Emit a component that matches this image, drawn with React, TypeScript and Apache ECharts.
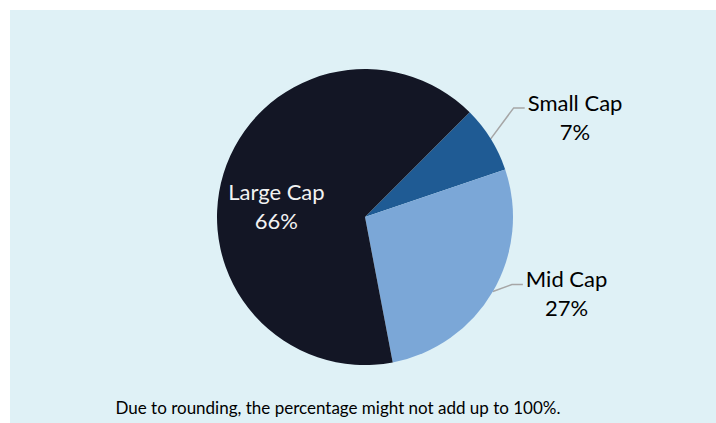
import React, { useEffect, useRef } from "react";
import * as echarts from "echarts";

const categories = ["Small Cap", "Mid Cap", "Large Cap"];
const values = [7.3, 27.2, 65.5];
const colors = ["#1f5b94", "#7ba7d7", "#131625"];
const footnote = "Due to rounding, the percentage might not add up to 100%.";

export default function App() {
  const ref = useRef<HTMLDivElement>(null);
  useEffect(() => {
    document.body.style.margin = "0";
    const chart = echarts.init(ref.current!, null, { renderer: "svg" });
    const font = "Lato, 'Open Sans', sans-serif";
    const lineSegs: Record<number, number[]> = { 0: [23, -31, 9], 1: [19, -7, 8] };
    chart.setOption({
      animation: false,
      backgroundColor: "#ffffff",
      graphic: [
        { type: "rect", left: 10, top: 10, shape: { width: 706, height: 413 }, style: { fill: "#dff1f6" }, z: -10 },
        {
          type: "text",
          x: 338,
          y: 407,
          style: {
            text: footnote,
            font: `17px ${font}`,
            fill: "#000000",
            textAlign: "center",
            textVerticalAlign: "middle",
          },
        },
      ],
      series: [
        {
          type: "pie",
          center: [365, 217],
          radius: 148,
          startAngle: 45,
          clockwise: true,
          color: colors,
          data: categories.map((name, i) =>
            i === 2
              ? {
                  name,
                  value: values[i],
                  label: { position: "inside", color: "#f2f2f2", offset: [-15, 12] },
                }
              : { name, value: values[i] }
          ),
          label: {
            show: true,
            position: "outside",
            formatter: (p: any) => `${p.name}\n${Math.round(p.value)}%`,
            fontFamily: font,
            fontSize: 22,
            lineHeight: 29,
            color: "#000000",
            align: "center",
          },
          labelLine: { show: true, lineStyle: { color: "#a6a6a6", width: 1.5 } },
          labelLayout: (p: any) => {
            const seg = lineSegs[p.dataIndex];
            if (!seg || !p.labelLinePoints) return {};
            const p0 = p.labelLinePoints[0];
            const p1 = [p0[0] + seg[0], p0[1] + seg[1]];
            const p2 = [p1[0] + 11, p1[1]];
            return {
              x: p2[0] + 3 + p.labelRect.width / 2,
              y: p1[1] + seg[2],
              align: "center",
              verticalAlign: "middle",
              labelLinePoints: [p0, p1, p2],
            };
          },
        },
      ],
    });
    return () => chart.dispose();
  }, []);
  return <div ref={ref} style={{ width: 716, height: 423 }} />;
}
